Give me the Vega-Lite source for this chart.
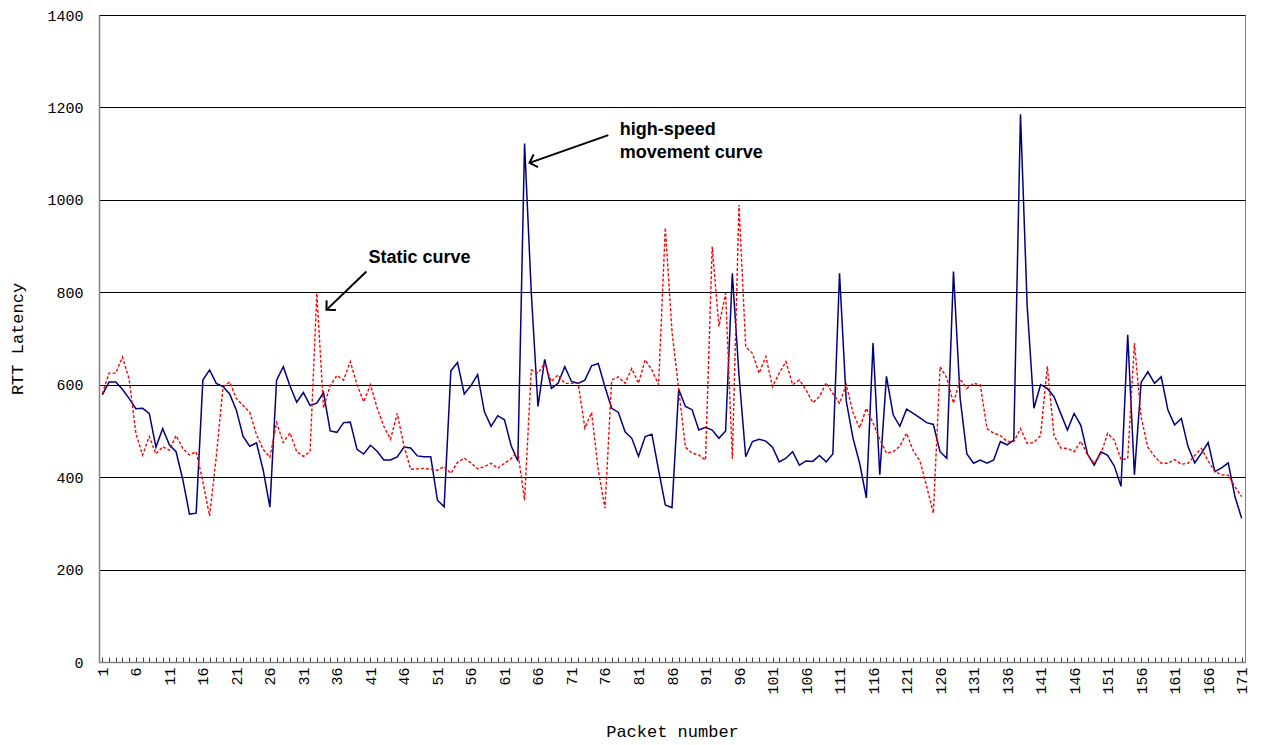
{
"$schema": "https://vega.github.io/schema/vega-lite/v6.json",
"width": 1146, "height": 647,
"autosize": {"type": "none"},
"padding": {"left": 99, "top": 15, "right": 18, "bottom": 83},
"background": "white",
"config": {"view": {"stroke": "#808080", "strokeWidth": 1}},
"datasets": {
"rtt": [
{"packet":1,"moving":578,"static":581},{"packet":2,"moving":606,"static":625},{"packet":3,"moving":606,"static":625},{"packet":4,"moving":590,"static":660},{"packet":5,"moving":570,"static":612},
{"packet":6,"moving":548,"static":495},{"packet":7,"moving":549,"static":448},{"packet":8,"moving":538,"static":488},{"packet":9,"moving":465,"static":450},{"packet":10,"moving":505,"static":466},
{"packet":11,"moving":470,"static":458},{"packet":12,"moving":455,"static":490},{"packet":13,"moving":395,"static":462},{"packet":14,"moving":320,"static":448},{"packet":15,"moving":322,"static":455},
{"packet":16,"moving":610,"static":390},{"packet":17,"moving":632,"static":316},{"packet":18,"moving":603,"static":444},{"packet":19,"moving":596,"static":595},{"packet":20,"moving":580,"static":606},
{"packet":21,"moving":545,"static":570},{"packet":22,"moving":488,"static":555},{"packet":23,"moving":467,"static":540},{"packet":24,"moving":474,"static":492},{"packet":25,"moving":415,"static":460},
{"packet":26,"moving":335,"static":443},{"packet":27,"moving":610,"static":518},{"packet":28,"moving":639,"static":475},{"packet":29,"moving":597,"static":496},{"packet":30,"moving":562,"static":455},
{"packet":31,"moving":583,"static":445},{"packet":32,"moving":555,"static":455},{"packet":33,"moving":560,"static":798},{"packet":34,"moving":583,"static":550},{"packet":35,"moving":500,"static":598},
{"packet":36,"moving":497,"static":620},{"packet":37,"moving":518,"static":610},{"packet":38,"moving":519,"static":650},{"packet":39,"moving":460,"static":600},{"packet":40,"moving":450,"static":563},
{"packet":41,"moving":469,"static":600},{"packet":42,"moving":456,"static":550},{"packet":43,"moving":437,"static":510},{"packet":44,"moving":437,"static":482},{"packet":45,"moving":444,"static":538},
{"packet":46,"moving":465,"static":468},{"packet":47,"moving":463,"static":417},{"packet":48,"moving":446,"static":418},{"packet":49,"moving":444,"static":419},{"packet":50,"moving":444,"static":417},
{"packet":51,"moving":350,"static":415},{"packet":52,"moving":336,"static":423},{"packet":53,"moving":630,"static":408},{"packet":54,"moving":648,"static":432},{"packet":55,"moving":580,"static":441},
{"packet":56,"moving":598,"static":431},{"packet":57,"moving":622,"static":418},{"packet":58,"moving":542,"static":423},{"packet":59,"moving":510,"static":430},{"packet":60,"moving":533,"static":419},
{"packet":61,"moving":524,"static":430},{"packet":62,"moving":468,"static":440},{"packet":63,"moving":435,"static":455},{"packet":64,"moving":1122,"static":350},{"packet":65,"moving":800,"static":632},
{"packet":66,"moving":553,"static":625},{"packet":67,"moving":655,"static":646},{"packet":68,"moving":592,"static":607},{"packet":69,"moving":603,"static":621},{"packet":70,"moving":639,"static":603},
{"packet":71,"moving":607,"static":603},{"packet":72,"moving":603,"static":603},{"packet":73,"moving":610,"static":506},{"packet":74,"moving":641,"static":540},{"packet":75,"moving":646,"static":415},
{"packet":76,"moving":595,"static":333},{"packet":77,"moving":549,"static":610},{"packet":78,"moving":540,"static":617},{"packet":79,"moving":498,"static":603},{"packet":80,"moving":484,"static":635},
{"packet":81,"moving":445,"static":603},{"packet":82,"moving":488,"static":654},{"packet":83,"moving":493,"static":632},{"packet":84,"moving":415,"static":600},{"packet":85,"moving":340,"static":940},
{"packet":86,"moving":334,"static":715},{"packet":87,"moving":590,"static":590},{"packet":88,"moving":553,"static":465},{"packet":89,"moving":546,"static":452},{"packet":90,"moving":502,"static":448},
{"packet":91,"moving":508,"static":437},{"packet":92,"moving":502,"static":899},{"packet":93,"moving":484,"static":726},{"packet":94,"moving":500,"static":798},{"packet":95,"moving":841,"static":440},
{"packet":96,"moving":620,"static":989},{"packet":97,"moving":444,"static":682},{"packet":98,"moving":477,"static":668},{"packet":99,"moving":482,"static":625},{"packet":100,"moving":478,"static":661},
{"packet":101,"moving":465,"static":596},{"packet":102,"moving":433,"static":625},{"packet":103,"moving":441,"static":650},{"packet":104,"moving":455,"static":600},{"packet":105,"moving":426,"static":610},
{"packet":106,"moving":435,"static":589},{"packet":107,"moving":434,"static":561},{"packet":108,"moving":447,"static":574},{"packet":109,"moving":433,"static":604},{"packet":110,"moving":450,"static":581},
{"packet":111,"moving":841,"static":560},{"packet":112,"moving":565,"static":600},{"packet":113,"moving":485,"static":540},{"packet":114,"moving":430,"static":506},{"packet":115,"moving":355,"static":549},
{"packet":116,"moving":690,"static":517},{"packet":117,"moving":405,"static":482},{"packet":118,"moving":618,"static":452},{"packet":119,"moving":535,"static":455},{"packet":120,"moving":510,"static":467},
{"packet":121,"moving":547,"static":495},{"packet":122,"moving":538,"static":457},{"packet":123,"moving":528,"static":435},{"packet":124,"moving":518,"static":380},{"packet":125,"moving":514,"static":322},
{"packet":126,"moving":455,"static":639},{"packet":127,"moving":441,"static":615},{"packet":128,"moving":845,"static":560},{"packet":129,"moving":570,"static":612},{"packet":130,"moving":450,"static":592},
{"packet":131,"moving":430,"static":603},{"packet":132,"moving":437,"static":600},{"packet":133,"moving":430,"static":505},{"packet":134,"moving":437,"static":495},{"packet":135,"moving":477,"static":490},
{"packet":136,"moving":470,"static":477},{"packet":137,"moving":480,"static":477},{"packet":138,"moving":1185,"static":505},{"packet":139,"moving":770,"static":473},{"packet":140,"moving":549,"static":475},
{"packet":141,"moving":600,"static":490},{"packet":142,"moving":592,"static":640},{"packet":143,"moving":574,"static":490},{"packet":144,"moving":538,"static":463},{"packet":145,"moving":502,"static":462},
{"packet":146,"moving":538,"static":455},{"packet":147,"moving":512,"static":478},{"packet":148,"moving":450,"static":448},{"packet":149,"moving":426,"static":430},{"packet":150,"moving":455,"static":450},
{"packet":151,"moving":447,"static":495},{"packet":152,"moving":424,"static":480},{"packet":153,"moving":380,"static":438},{"packet":154,"moving":708,"static":440},{"packet":155,"moving":405,"static":690},
{"packet":156,"moving":605,"static":530},{"packet":157,"moving":628,"static":465},{"packet":158,"moving":603,"static":445},{"packet":159,"moving":617,"static":430},{"packet":160,"moving":545,"static":430},
{"packet":161,"moving":513,"static":438},{"packet":162,"moving":527,"static":428},{"packet":163,"moving":466,"static":430},{"packet":164,"moving":431,"static":447},{"packet":165,"moving":452,"static":462},
{"packet":166,"moving":475,"static":435},{"packet":167,"moving":412,"static":412},{"packet":168,"moving":420,"static":405},{"packet":169,"moving":431,"static":404},{"packet":170,"moving":358,"static":379},
{"packet":171,"moving":311,"static":358}
],
"notes": [
{"packet": 40.7, "rtt": 874, "label": "Static curve"},
{"packet": 78.2, "rtt": 1151, "label": "high-speed"},
{"packet": 78.2, "rtt": 1101, "label": "movement curve"}
],
"arrows": [
{"packet": 40.4, "rtt": 845, "packet2": 34.44, "rtt2": 762},
{"packet": 76.5, "rtt": 1140, "packet2": 64.74, "rtt2": 1080}
],
"tipStatic": [{"packet": 34.44, "rtt": 762}],
"tipMoving": [{"packet": 64.74, "rtt": 1080}]
},
"layer": [
{
"data": {"name": "rtt"},
"mark": {"type": "line", "color": "#000080", "strokeWidth": 1.5},
"encoding": {
"x": {"field": "packet", "type": "quantitative", "title": "Packet number",
"scale": {"domain": [0.5, 171.5], "nice": false, "zero": false},
"axis": {"titleFont": "Liberation Mono", "titleFontSize": 17, "titleFontWeight": "normal", "titleColor": "black", "titlePadding": 29,
"tickCount": 171, "format": "d", "labelExpr": "(datum.value - 1) % 5 == 0 ? datum.label : ''", "labelOverlap": false, "labelAngle": -90, "labelFont": "Liberation Mono", "labelFontSize": 15, "labelColor": "black", "labelPadding": 10,
"tickSize": -5, "tickColor": "#404040", "domainColor": "#808080", "domainWidth": 1.5, "grid": false}},
"y": {"field": "moving", "type": "quantitative", "title": "RTT Latency",
"scale": {"domain": [0, 1400], "nice": false},
"axis": {"titleFont": "Liberation Mono", "titleFontSize": 17, "titleFontWeight": "normal", "titleColor": "black", "titlePadding": 20,
"values": [0,200,400,600,800,1000,1200,1400], "format": "d", "labelFont": "Liberation Mono", "labelFontSize": 15, "labelColor": "black", "labelPadding": 16, "ticks": false,
"domainColor": "#808080", "domainWidth": 1.5, "grid": true, "gridColor": "black", "gridWidth": 1, "gridOpacity": 1}}
}
},
{
"data": {"name": "rtt"},
"mark": {"type": "line", "color": "#FF0000", "strokeWidth": 1.4, "strokeDash": [3, 2]},
"encoding": {
"x": {"field": "packet", "type": "quantitative", "title": "Packet number"},
"y": {"field": "static", "type": "quantitative", "title": "RTT Latency"}
}
},
{
"data": {"name": "notes"},
"mark": {"type": "text", "align": "left", "baseline": "middle", "font": "Liberation Sans", "fontSize": 18, "fontWeight": "bold", "color": "black"},
"encoding": {
"x": {"field": "packet", "type": "quantitative", "title": "Packet number"},
"y": {"field": "rtt", "type": "quantitative", "title": "RTT Latency"},
"text": {"field": "label"}
}
},
{
"data": {"name": "arrows"},
"mark": {"type": "rule", "color": "black", "strokeWidth": 2},
"encoding": {
"x": {"field": "packet", "type": "quantitative", "title": "Packet number"},
"y": {"field": "rtt", "type": "quantitative", "title": "RTT Latency"},
"x2": {"field": "packet2"},
"y2": {"field": "rtt2"}
}
},
{
"data": {"name": "tipStatic"},
"mark": {"type": "point", "shape": "M-1,1L0,0L1,1", "filled": false, "color": "black", "strokeWidth": 2, "size": 180, "angle": 226, "opacity": 1},
"encoding": {
"x": {"field": "packet", "type": "quantitative", "title": "Packet number"},
"y": {"field": "rtt", "type": "quantitative", "title": "RTT Latency"}
}
},
{
"data": {"name": "tipMoving"},
"mark": {"type": "point", "shape": "M-1,1L0,0L1,1", "filled": false, "color": "black", "strokeWidth": 2, "size": 180, "angle": 251, "opacity": 1},
"encoding": {
"x": {"field": "packet", "type": "quantitative", "title": "Packet number"},
"y": {"field": "rtt", "type": "quantitative", "title": "RTT Latency"}
}
}
]
}
